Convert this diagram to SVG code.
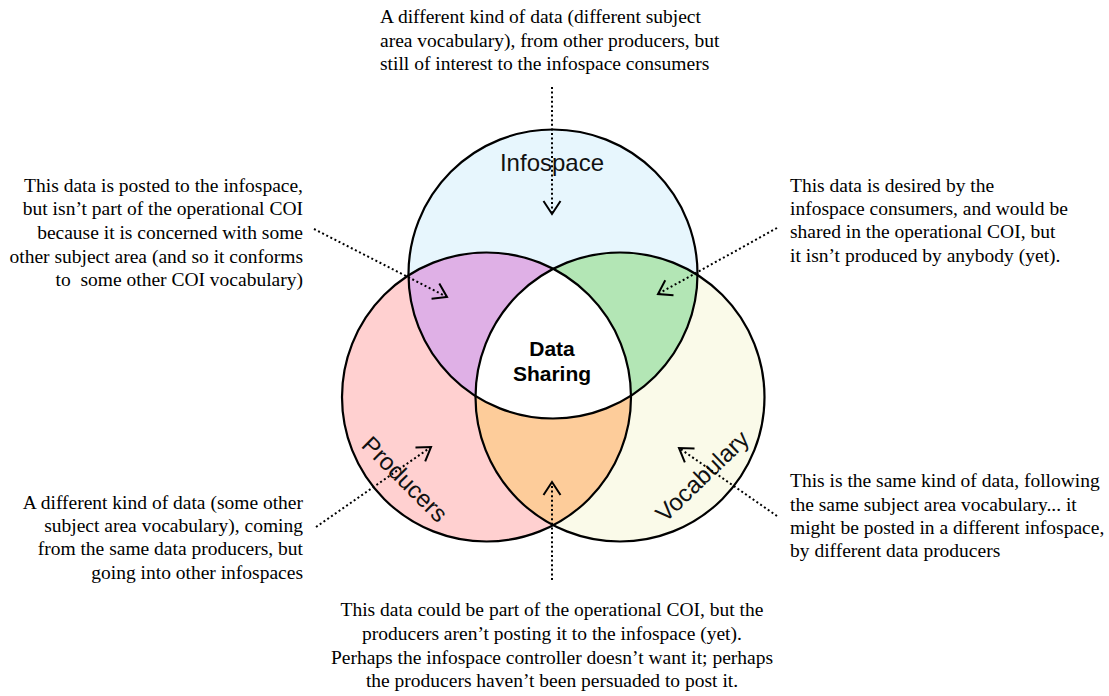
<svg xmlns="http://www.w3.org/2000/svg" width="1109" height="696" viewBox="0 0 1109 696">
<style>
.note{font-family:"Liberation Serif","Times New Roman",serif;font-size:19.5px;fill:#000;white-space:pre}
.lbl{font-family:"Liberation Sans",Arial,sans-serif;font-size:24px;fill:#111}
.ctr{font-family:"Liberation Sans",Arial,sans-serif;font-size:21px;font-weight:bold;fill:#000}
.ring{fill:none;stroke:#000;stroke-width:2.2}
.conn{fill:none;stroke:#000;stroke-width:2;stroke-dasharray:2 2.6;marker-end:url(#arr)}
</style>
<defs>
<clipPath id="cI"><circle cx="553" cy="274" r="144.5"/></clipPath>
<clipPath id="cP"><circle cx="486.5" cy="397" r="144.5"/></clipPath>
<clipPath id="cV"><circle cx="620" cy="397" r="144.5"/></clipPath>
<marker id="arr" viewBox="-15 -11 17 22" markerWidth="17" markerHeight="22" refX="0" refY="0" orient="auto" markerUnits="userSpaceOnUse">
<path d="M-13,-8.5 L0,0 L-13,8.5" fill="none" stroke="#000" stroke-width="2"/>
</marker>
</defs>
<rect width="1109" height="696" fill="#fff"/>

<g id="infospace">
<circle cx="553" cy="274" r="144.5" fill="#e7f6fd"/>
</g>
<g id="producers">
<circle cx="486.5" cy="397" r="144.5" fill="#ffd0d0"/>
</g>
<g id="vocabulary">
<circle cx="620" cy="397" r="144.5" fill="#fafae9"/>
</g>
<g id="overlaps">
<circle cx="486.5" cy="397" r="144.5" fill="#dfb0e6" clip-path="url(#cI)"/>
<circle cx="620" cy="397" r="144.5" fill="#b3e6b5" clip-path="url(#cI)"/>
<circle cx="620" cy="397" r="144.5" fill="#fdcc9a" clip-path="url(#cP)"/>
<g clip-path="url(#cP)"><circle cx="553" cy="274" r="144.5" fill="#fff" clip-path="url(#cV)"/></g>
</g>
<g id="rings">
<circle class="ring" cx="553" cy="274" r="144.5"/>
<circle class="ring" cx="486.5" cy="397" r="144.5"/>
<circle class="ring" cx="620" cy="397" r="144.5"/>
</g>
<g id="labels">
<text class="lbl" x="552" y="171" text-anchor="middle">Infospace</text>
<text class="lbl" x="0" y="0" text-anchor="middle" dominant-baseline="central" transform="translate(405,479) rotate(45)">Producers</text>
<text class="lbl" x="0" y="0" text-anchor="middle" dominant-baseline="central" transform="translate(702,476) rotate(-44)">Vocabulary</text>
</g>
<g id="data-sharing">
<text class="ctr" x="552" y="355.5" text-anchor="middle">Data</text>
<text class="ctr" x="552" y="381" text-anchor="middle">Sharing</text>
</g>

<g id="note-top">
<text class="note" x="380" y="23">A different kind of data (different subject</text>
<text class="note" x="380" y="47">area vocabulary), from other producers, but</text>
<text class="note" x="380" y="70">still of interest to the infospace consumers</text>
</g>
<g id="note-left-top">
<text class="note" x="303" y="192" text-anchor="end">This data is posted to the infospace,</text>
<text class="note" x="303" y="215" text-anchor="end">but isn’t part of the operational COI</text>
<text class="note" x="303" y="239" text-anchor="end">because it is concerned with some</text>
<text class="note" x="303" y="263" text-anchor="end">other subject area (and so it conforms</text>
<text class="note" x="303" y="286" text-anchor="end">to  some other COI vocabulary)</text>
</g>
<g id="note-right-top">
<text class="note" x="790" y="192">This data is desired by the</text>
<text class="note" x="790" y="215">infospace consumers, and would be</text>
<text class="note" x="790" y="238">shared in the operational COI, but</text>
<text class="note" x="790" y="262">it isn’t produced by anybody (yet).</text>
</g>
<g id="note-left-bottom">
<text class="note" x="303" y="509" text-anchor="end">A different kind of data (some other</text>
<text class="note" x="303" y="532" text-anchor="end">subject area vocabulary), coming</text>
<text class="note" x="303" y="555" text-anchor="end">from the same data producers, but</text>
<text class="note" x="303" y="579" text-anchor="end">going into other infospaces</text>
</g>
<g id="note-right-bottom">
<text class="note" x="790" y="487">This is the same kind of data, following</text>
<text class="note" x="790" y="511">the same subject area vocabulary... it</text>
<text class="note" x="790" y="534">might be posted in a different infospace,</text>
<text class="note" x="790" y="557">by different data producers</text>
</g>
<g id="note-bottom">
<text class="note" x="552" y="616" text-anchor="middle">This data could be part of the operational COI, but the</text>
<text class="note" x="552" y="640" text-anchor="middle">producers aren’t posting it to the infospace (yet).</text>
<text class="note" x="552" y="664" text-anchor="middle">Perhaps the infospace controller doesn’t want it; perhaps</text>
<text class="note" x="552" y="687" text-anchor="middle">the producers haven’t been persuaded to post it.</text>
</g>

<g id="connectors">
<line class="conn" x1="552" y1="87" x2="552" y2="214"/>
<line class="conn" x1="314" y1="229" x2="447" y2="297"/>
<line class="conn" x1="777" y1="228" x2="658" y2="294"/>
<line class="conn" x1="316" y1="527" x2="431" y2="447"/>
<line class="conn" x1="777" y1="516" x2="679" y2="448"/>
<line class="conn" x1="552" y1="580" x2="552" y2="482"/>
</g>
</svg>
